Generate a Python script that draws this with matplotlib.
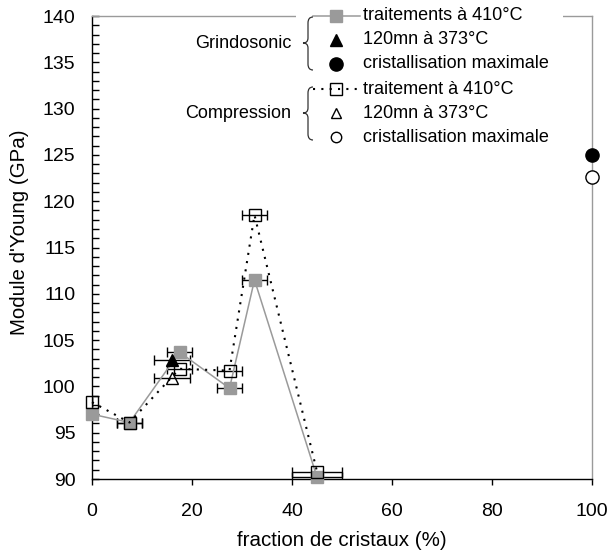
import matplotlib
matplotlib.use("Agg")
import matplotlib.pyplot as plt
import matplotlib.transforms as mtransforms
from matplotlib.lines import Line2D
from matplotlib.patches import Rectangle, PathPatch
from matplotlib.path import Path
from matplotlib.ticker import MultipleLocator

plt.rcParams['font.family'] = ['Liberation Sans', 'DejaVu Sans']

# Grindosonic, traitements a 410 C
frac_g = [0, 7.5, 17.5, 27.5, 32.5, 45]
mod_g = [97.0, 96.1, 103.7, 99.8, 111.5, 90.2]
err_g = [0, 2.5, 2.5, 2.5, 2.5, 5]
# Compression, traitement a 410 C
frac_c = [0, 7.5, 17.5, 27.5, 32.5, 45]
mod_c = [98.3, 96.1, 101.9, 101.7, 118.5, 90.8]
err_c = [0, 2.5, 2.5, 2.5, 2.5, 5]
# 120mn a 373 C
frac_t = [16]
err_t = [3.6]
mod_t_g = [102.9]
mod_t_c = [100.9]
# cristallisation maximale
frac_max = [100]
mod_max_g = [125.0]
mod_max_c = [122.6]

GRAY = '#9a9a9a'
W, H = 608, 558
FS_TICK = 14
FS_LABEL = 14.8
FS_LEG = 13

fig = plt.figure(figsize=(W / 100, H / 100), dpi=100)
ax = fig.add_axes([92 / W, 1 - 479 / H, 500 / W, 463 / H])

for fx, fy, fe in [(frac_g, mod_g, err_g), (frac_c, mod_c, err_c),
                   (frac_t, mod_t_g, err_t), (frac_t, mod_t_c, err_t)]:
    ax.errorbar(fx, fy, xerr=fe, fmt='none', ecolor='black',
                elinewidth=1, capsize=3.5, capthick=1, zorder=2)

ax.plot(frac_g, mod_g, color=GRAY, lw=1.1, marker='s', ms=8.5,
        mfc=GRAY, mec=GRAY, clip_on=False, zorder=3)
ax.plot(frac_c, mod_c, color='black', lw=1.5, ls=(0, (1, 3)), marker='s', ms=8,
        mfc='none', mec='black', mew=1, clip_on=False, zorder=4)
ax.plot(frac_t, mod_t_g, ls='none', marker='^', ms=9, mfc='black', mec='black', zorder=4)
ax.plot(frac_t, mod_t_c, ls='none', marker='^', ms=9, mfc='none', mec='black', mew=1, zorder=4)
ax.plot(frac_max, mod_max_g, ls='none', marker='o', ms=9.5, mfc='black', mec='black',
        clip_on=False, zorder=4)
ax.plot(frac_max, mod_max_c, ls='none', marker='o', ms=9.5, mfc='white', mec='black',
        mew=1, clip_on=False, zorder=4)

ax.set_xlim(0, 100)
ax.set_ylim(90, 140)
ax.xaxis.set_major_locator(MultipleLocator(20))
ax.yaxis.set_major_locator(MultipleLocator(5))
ax.yaxis.set_minor_locator(MultipleLocator(1))
ax.tick_params(axis='x', direction='out', length=4.5, width=1, labelsize=FS_TICK, pad=13)
ax.tick_params(axis='y', which='both', direction='in', length=5, width=1,
               labelsize=FS_TICK, pad=12)
ax.spines['top'].set_color(GRAY)
ax.spines['right'].set_color(GRAY)
for s in ax.spines.values():
    s.set_linewidth(1)
ax.set_xlabel("fraction de cristaux (%)", fontsize=FS_LABEL, va='center')
ax.set_ylabel("Module d'Young (GPa)", fontsize=FS_LABEL, va='center')
ax.xaxis.set_label_coords(250 / 500, (479 - 541) / 463)
ax.yaxis.set_label_coords((20 - 92) / 500, (479 - 232) / 463)

# legend block, in pixel coordinates of the picture
px = mtransforms.Affine2D().scale(1 / W, -1 / H).translate(0, 1) + fig.transFigure
fig.add_artist(Rectangle((296, 0), 267, 150, transform=px, facecolor='white',
                         edgecolor='none', zorder=5))

rows = [
    (dict(color=GRAY, lw=1.1, marker='s', ms=8.5, mfc=GRAY, mec=GRAY), True, "traitements à 410°C"),
    (dict(ls='none', marker='^', ms=9, mfc='black', mec='black'), False, "120mn à 373°C"),
    (dict(ls='none', marker='o', ms=9.5, mfc='black', mec='black'), False, "cristallisation maximale"),
    (dict(color='black', lw=1.5, ls=(0, (1, 3)), marker='s', ms=8, mfc='none', mec='black', mew=1),
     True, "traitement à 410°C"),
    (dict(ls='none', marker='^', ms=7, mfc='none', mec='black', mew=1), False, "120mn à 373°C"),
    (dict(ls='none', marker='o', ms=7.5, mfc='none', mec='black', mew=1), False, "cristallisation maximale"),
]
row_y = [16, 40, 64, 89, 113, 137]
marker_keys = ('marker', 'ms', 'mfc', 'mec', 'mew')
for (style, has_line, label), y in zip(rows, row_y):
    if has_line:
        line_style = {k: v for k, v in style.items() if k not in marker_keys}
        fig.add_artist(Line2D([313, 360], [y, y], transform=px, zorder=6, **line_style))
    mstyle = {k: v for k, v in style.items() if k in marker_keys}
    fig.add_artist(Line2D([336], [y], transform=px, ls='none', zorder=7, **mstyle))
    fig.text(363, y, label, transform=px, fontsize=FS_LEG, va='center', ha='left', zorder=7)

for name, yc in [("Grindosonic", 43), ("Compression", 113)]:
    fig.text(291, yc, name, transform=px, fontsize=FS_LEG, va='center', ha='right', zorder=7)
    top, bot = yc - 26, yc + 27
    verts = [(313, top), (308, top), (308, top + 6),
             (308, yc - 5),
             (308, yc), (303, yc),
             (308, yc), (308, yc + 5),
             (308, bot - 6),
             (308, bot), (313, bot)]
    codes = [Path.MOVETO, Path.CURVE3, Path.CURVE3,
             Path.LINETO,
             Path.CURVE3, Path.CURVE3,
             Path.CURVE3, Path.CURVE3,
             Path.LINETO,
             Path.CURVE3, Path.CURVE3]
    fig.add_artist(PathPatch(Path(verts, codes), transform=px, facecolor='none',
                             edgecolor='#333333', lw=0.9, zorder=7))

fig.savefig("out.png", dpi=100)
